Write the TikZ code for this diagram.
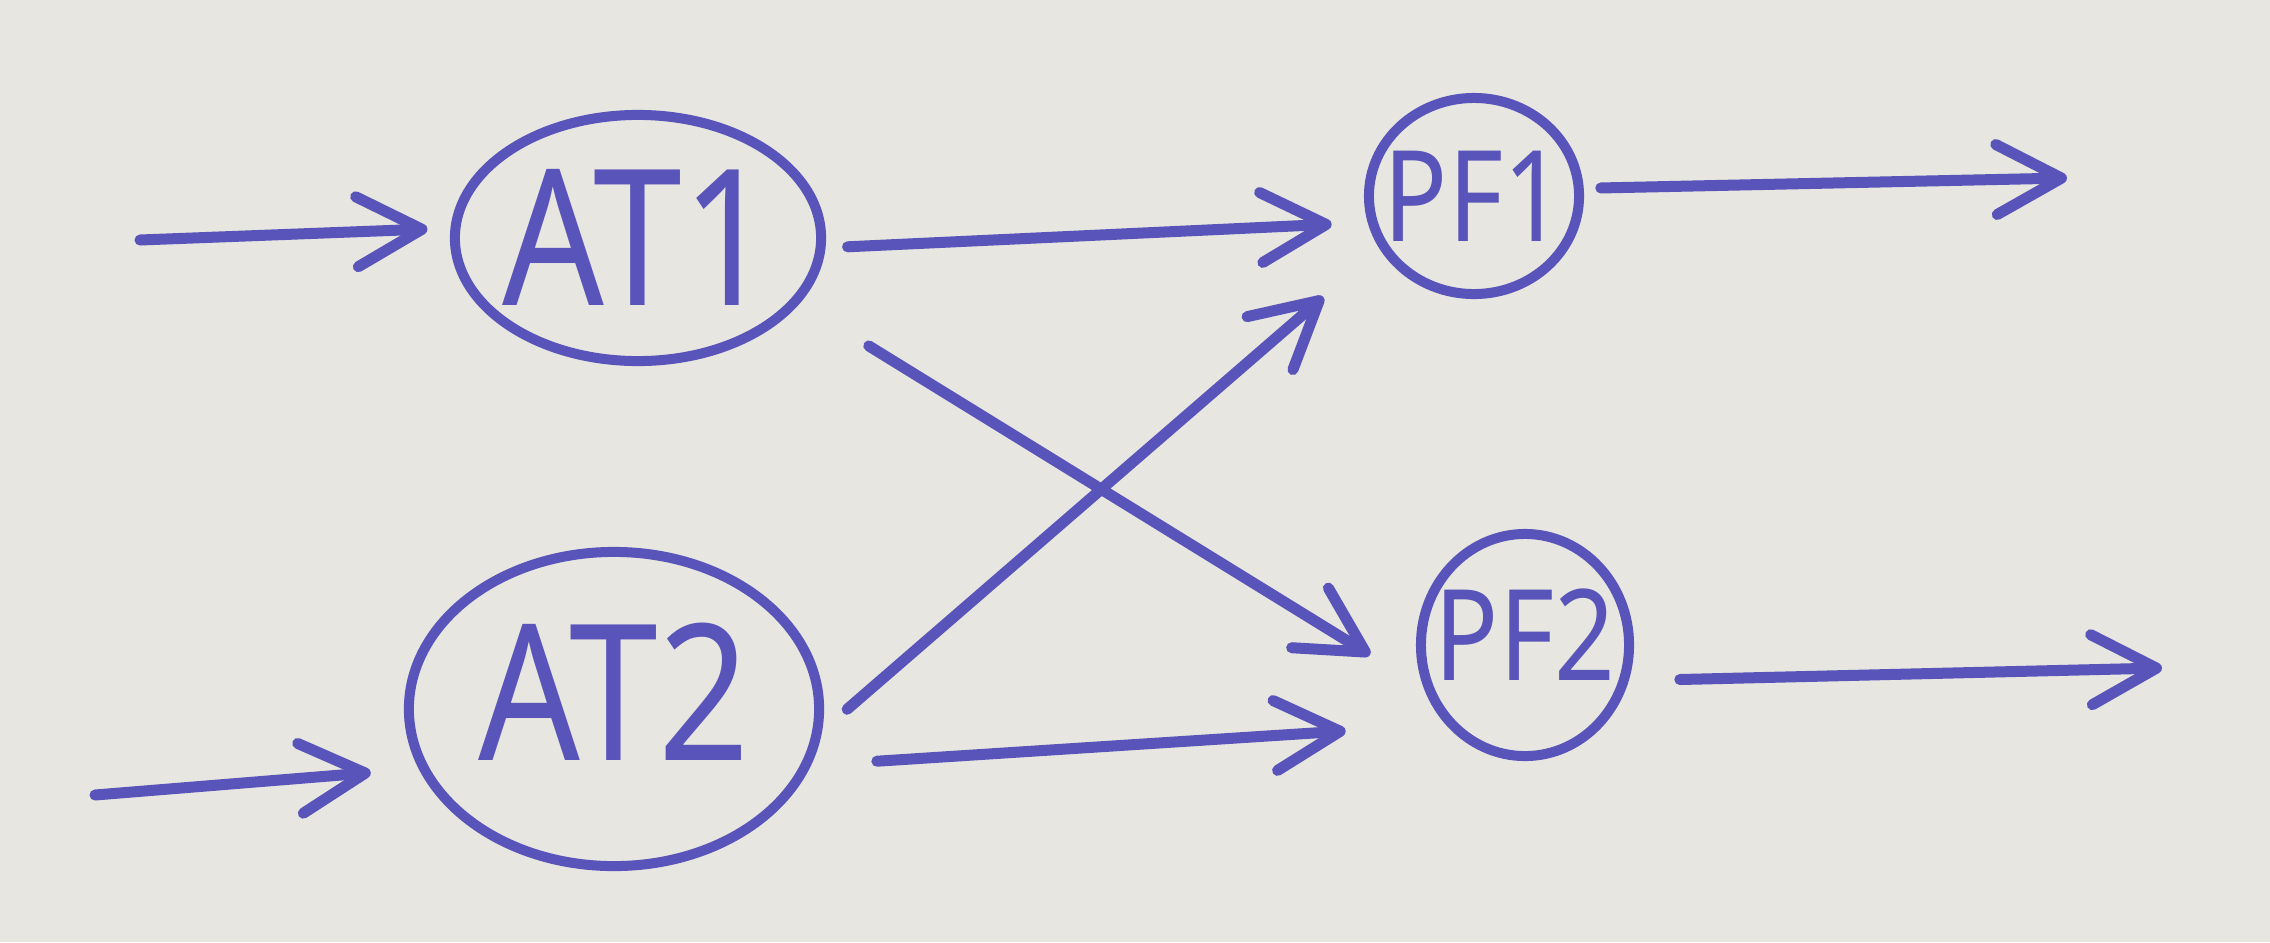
\documentclass[tikz,border=0pt]{standalone}
\usepackage{fontspec}
\newfontfamily\handfont{Noto Sans}[FakeStretch=0.84]
\usetikzlibrary{arrows.meta,shapes.geometric}
\definecolor{paper}{RGB}{231,230,225}
\definecolor{ink}{RGB}{88,84,186}
\tikzset{
	block/.style={
		ellipse, draw=ink, line width=1mm,
		inner ysep=0, inner xsep=-3mm, text=ink,
		font=\handfont\fontsize{54}{54}\selectfont,
		text height=1.35cm, text depth=0pt,
	},
	pfblock/.style={
		block, font=\handfont\fontsize{36}{36}\selectfont,
		text height=0.9cm,
	},
	line/.style={
		draw=ink, line width=1.1mm, line cap=round,
		-{Straight Barb[length=6.5mm,width=7mm,round]},
	}
}

\begin{document}
\begin{tikzpicture}[x=0.01cm, y=-0.01cm]
	% Paper
	\fill[paper] (0,0) rectangle (2270,942);
	% Define nodes
	\node [block, minimum width=3.66cm, minimum height=2.46cm] (AT1) at (638,238) {AT1};
	\node [block, minimum width=4.10cm, minimum height=3.14cm, text depth=0.32cm] (AT2) at (614,709) {AT2};
	\node [pfblock, minimum width=2.10cm, minimum height=1.96cm] (PF1) at (1474,196) {PF1};
	\node [pfblock, minimum width=2.08cm, minimum height=2.22cm, text depth=0.2cm] (PF2) at (1525,645) {PF2};
	% Define coordinates for the free ends
	\coordinate (in1) at (140,240);
	\coordinate (in2) at (95,795);
	\coordinate (out1) at (2067,178);
	\coordinate (out2) at (2162,668);
	% Inputs
	\draw[line, shorten >=2.3mm] (in1) -- (AT1.177);
	\draw[line, shorten >=4.8mm] (in2) -- (AT2.197);
	% AT to PF connections
	\draw[line, shorten <=2.2mm, shorten >=3.6mm] (AT1.-3) -- (PF1.194);
	\draw[line, shorten <=8.1mm, shorten >=6.3mm] (AT1.-22) -- (PF2.203);
	\draw[line, shorten <=3.3mm, shorten >=7.4mm] (AT2.-6) -- (PF1.209);
	\draw[line, shorten <=6.6mm, shorten >=1cm] (AT2.-16) -- (PF2.225);
	% Outputs
	\draw[line, shorten <=1.7mm] (PF1.4) -- (out1);
	\draw[line, shorten <=5.1mm] (PF2.-19) -- (out2);
\end{tikzpicture}
\end{document}
